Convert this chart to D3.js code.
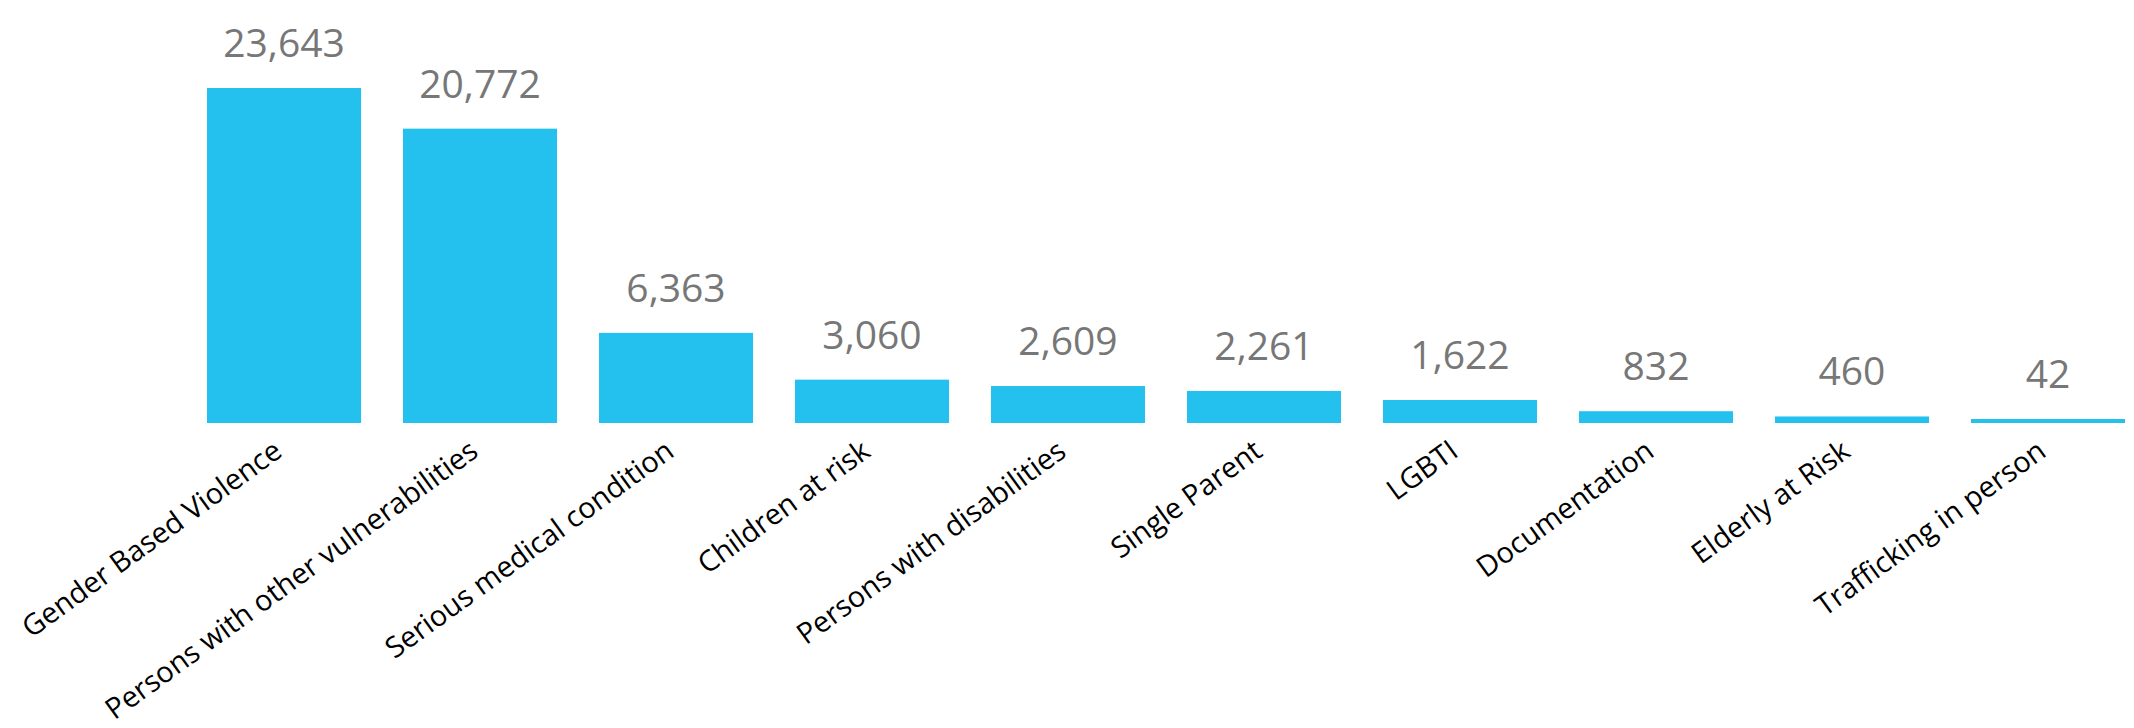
<!DOCTYPE html>
<html>
<head>
<meta charset="utf-8">
<script src="https://cdn.jsdelivr.net/npm/d3@7"></script>
<style>
  body { margin: 0; background: #fff; }
  text { font-family: "Open Sans", "Noto Sans", sans-serif; }
</style>
</head>
<body>
<script>
const categories = [
  'Gender Based Violence',
  'Persons with other vulnerabilities',
  'Serious medical condition',
  'Children at risk',
  'Persons with disabilities',
  'Single Parent',
  'LGBTI',
  'Documentation',
  'Elderly at Risk',
  'Trafficking in person'
];
const values = [23643, 20772, 6363, 3060, 2609, 2261, 1622, 832, 460, 42];

const width = 2134;
const height = 728;
const baseline = 423;
const plotTop = 88;
const minBar = 4; // tiny bars still get drawn a few px tall

const svg = d3.select('body').append('svg')
  .attr('width', width)
  .attr('height', height);

const xScale = d3.scaleBand()
  .domain(categories)
  .range([207, 2125])
  .paddingInner(0.214)
  .paddingOuter(0);

const yScale = d3.scaleLinear()
  .domain([0, d3.max(values)])
  .range([baseline, plotTop]);

const data = categories.map((c, i) => ({ name: c, value: values[i] }));
const barTop = (d) => Math.min(yScale(d.value), baseline - minBar);

svg.append('g')
  .selectAll('rect')
  .data(data)
  .join('rect')
  .attr('x', (d) => xScale(d.name))
  .attr('y', barTop)
  .attr('width', xScale.bandwidth())
  .attr('height', (d) => baseline - barTop(d))
  .attr('fill', '#24c0ee');

// value labels above bars
svg.append('g')
  .selectAll('text')
  .data(data)
  .join('text')
  .attr('x', (d) => xScale(d.name) + xScale.bandwidth() / 2)
  .attr('y', (d) => barTop(d) - 31)
  .attr('text-anchor', 'middle')
  .attr('fill', '#777777')
  .attr('font-size', 39)
  .text((d) => d3.format(',')(d.value));

// rotated category labels
const xAxis = d3.axisBottom(xScale).tickSize(0).tickPadding(0);

const axisG = svg.append('g')
  .attr('transform', `translate(0, ${baseline})`)
  .call(xAxis);

axisG.select('.domain').remove();

axisG.selectAll('text')
  .attr('font-size', 29)
  .attr('fill', '#000')
  .attr('text-anchor', 'end')
  .attr('dy', 0)
  .attr('transform', 'translate(0, 32) rotate(-36)');
</script>
</body>
</html>
